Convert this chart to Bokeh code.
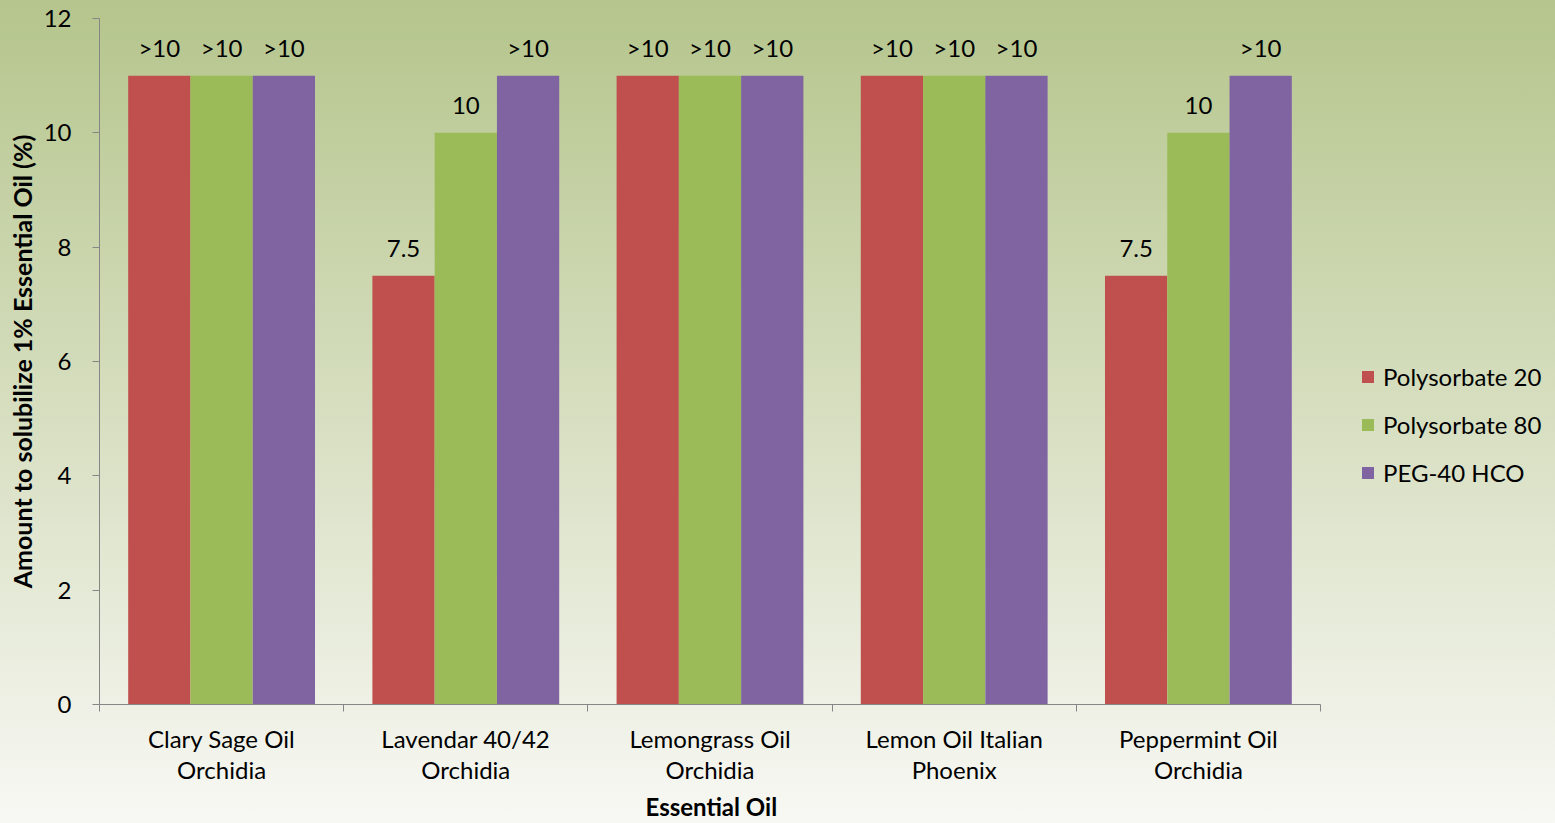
import numpy as np
from bokeh.plotting import figure
from bokeh.models import (ColumnDataSource, FixedTicker, Range1d, Legend, LegendItem,
                          LabelSet, Title)
from bokeh.core.properties import value
from bokeh.embed import file_html
from bokeh.resources import INLINE

# ---- data ----
categories = ["Clary Sage Oil\nOrchidia", "Lavendar 40/42\nOrchidia",
              "Lemongrass Oil\nOrchidia", "Lemon Oil Italian\nPhoenix",
              "Peppermint Oil\nOrchidia"]
series = ["Polysorbate 20", "Polysorbate 80", "PEG-40 HCO"]
polysorbate_20 = [11, 7.5, 11, 11, 7.5]
polysorbate_80 = [11, 10, 11, 11, 10]
peg_40_hco = [11, 11, 11, 11, 11]
labels_20 = [">10", "7.5", ">10", ">10", "7.5"]
labels_80 = [">10", "10", ">10", ">10", "10"]
labels_peg = [">10", ">10", ">10", ">10", ">10"]
y_ticks = [0, 2, 4, 6, 8, 10, 12]
colors = ["#C0504D", "#9BBB59", "#8064A2"]

FONT = "Lato"
FS = "24px"
n = len(categories)
centers = np.arange(n) + 0.5
bar_w = 0.255

# frame spans the full width to the right edge; the axis is bounded to the categories
W, H = 1555, 823
left, top, bottom = 99, 18, 118
axis_px = 1221  # pixel length of the category axis
x_end = n * (W - left) / axis_px

p = figure(width=W, height=H, output_backend="svg", toolbar_location=None,
           x_range=Range1d(0, x_end), y_range=Range1d(0, 12),
           min_border_left=left, min_border_right=0, min_border_top=top,
           min_border_bottom=bottom)
p.styles = {"background": "linear-gradient(to bottom, #b5c58c 0%, #f8f8f4 100%)"}
p.background_fill_color = None
p.border_fill_color = None
p.outline_line_color = None
p.grid.visible = False

renderers = []
all_vals = [polysorbate_20, polysorbate_80, peg_40_hco]
all_labels = [labels_20, labels_80, labels_peg]
offsets = [-bar_w, 0, bar_w]
for vals, labs, off, col in zip(all_vals, all_labels, offsets, colors):
    src = ColumnDataSource(dict(x=centers + off, top=vals, lab=labs))
    r = p.vbar(x="x", top="top", width=bar_w, source=src, fill_color=col,
               line_color=None)
    renderers.append(r)
    p.add_layout(LabelSet(x="x", y="top", text="lab", source=src,
                          text_align="center", text_baseline="alphabetic", y_offset=19,
                          text_font=value(FONT), text_font_size=FS,
                          text_color="#000000"))

# axes
axis_color = "#868686"
xa = p.xaxis[0]
xa.bounds = (0, n)
xa.ticker = FixedTicker(ticks=list(centers), minor_ticks=list(range(n + 1)))
xa.major_label_overrides = {float(c): cat for c, cat in zip(centers, categories)}
xa.major_tick_line_color = None
xa.major_tick_out = 0
xa.major_tick_in = 0
xa.minor_tick_line_color = axis_color
xa.minor_tick_out = 7
xa.minor_tick_in = 0
xa.major_label_standoff = 12
xa.axis_line_color = axis_color
xa.major_label_text_font = FONT
xa.major_label_text_font_size = FS
xa.major_label_text_line_height = 1.1
xa.major_label_text_color = "#000000"

# x axis title, centred under the category axis (not the wider frame)
xtitle = Title(text="Essential Oil", align="left", offset=546, standoff=5,
               text_font=FONT, text_font_style="bold", text_font_size=FS,
               text_color="#000000")
p.add_layout(xtitle, "below")

ya = p.yaxis[0]
ya.ticker = FixedTicker(ticks=y_ticks, minor_ticks=[])
ya.major_tick_line_color = axis_color
ya.major_tick_out = 7
ya.major_tick_in = 0
ya.minor_tick_line_color = None
ya.major_label_standoff = 21
ya.axis_line_color = axis_color
ya.axis_label = "Amount to solubilize 1% Essential Oil (%)"
ya.axis_label_text_font = FONT
ya.axis_label_text_font_style = "bold"
ya.axis_label_text_font_size = "25px"
ya.axis_label_text_color = "#000000"
ya.axis_label_standoff = 4
ya.major_label_text_font = FONT
ya.major_label_text_font_size = FS
ya.major_label_text_color = "#000000"

legend = Legend(items=[LegendItem(label=s, renderers=[r]) for s, r in zip(series, renderers)],
                location=(1261, 217), orientation="vertical",
                glyph_width=15, glyph_height=15, label_standoff=8, spacing=19,
                padding=0, margin=0, border_line_color=None, background_fill_alpha=0,
                label_text_font=FONT, label_text_font_size=FS,
                label_text_color="#000000")
p.add_layout(legend, "center")

open("out.html", "w").write(file_html(p, INLINE))
